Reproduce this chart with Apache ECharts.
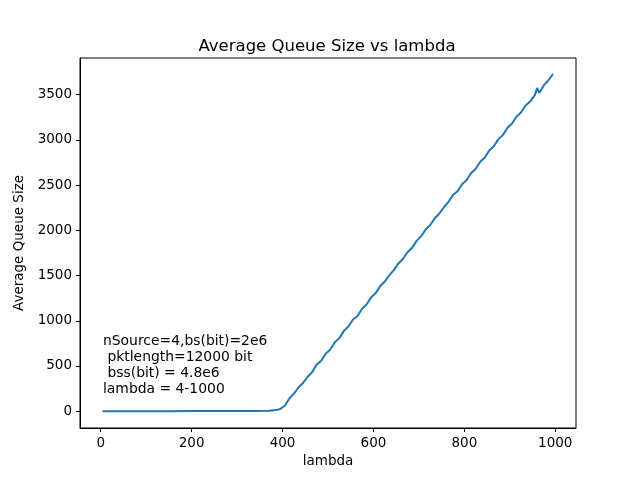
<!DOCTYPE html>
<html>
<head>
<meta charset="utf-8">
<script src="https://cdn.jsdelivr.net/npm/echarts@6/dist/echarts.min.js"></script>
<style>
  html, body { margin: 0; padding: 0; background: #fff; }
  #chart { width: 640px; height: 480px; }
</style>
</head>
<body>
<div id="chart"></div>
<script>
// lambda values and the measured average queue size
const lambdas = [
  4, 50, 100, 150, 200, 250, 300, 340, 370, 385, 395,
  405, 415, 425, 435, 445, 455, 465, 475, 485, 495,
  505, 515, 525, 535, 545, 555, 565, 575, 585, 595,
  605, 615, 625, 635, 645, 655, 665, 675, 685, 695,
  705, 715, 725, 735, 745, 755, 765, 775, 785, 795,
  805, 815, 825, 835, 845, 855, 865, 875, 885, 895,
  905, 915, 925, 935, 945, 955, 960, 965, 975, 985, 995
];
const queueSize = [
  0, 0, 0, 0, 1, 1, 2, 3, 6, 12, 25,
  60, 140, 195, 262, 312, 378, 432, 515, 558, 636,
  683, 762, 808, 888, 936, 1014, 1052, 1133, 1182, 1259,
  1306, 1384, 1434, 1504, 1560, 1634, 1686, 1758, 1808, 1884,
  1936, 2010, 2060, 2134, 2186, 2254, 2316, 2390, 2432, 2509,
  2556, 2634, 2682, 2758, 2806, 2884, 2932, 3009, 3056, 3134,
  3182, 3259, 3306, 3384, 3426, 3496, 3575, 3522, 3606, 3660, 3730
];
const xTicks = [0, 200, 400, 600, 800, 1000];
const yTicks = [0, 500, 1000, 1500, 2000, 2500, 3000, 3500];
const noteLines = [
  'nSource=4,bs(bit)=2e6',
  ' pktlength=12000 bit',
  ' bss(bit) = 4.8e6',
  'lambda = 4-1000'
];

const font = 'DejaVu Sans';
const chart = echarts.init(document.getElementById('chart'));

const axisCommon = {
  type: 'value',
  splitLine: { show: false },
  axisLine: { show: true, onZero: false, lineStyle: { color: '#000', width: 1 } },
  axisTick: { show: true, length: 4, lineStyle: { color: '#000', width: 1 } },
  axisLabel: {
    color: '#000', fontFamily: font, fontSize: 13.5, margin: 8,
    formatter: (v) => String(v)
  },
  nameTextStyle: { color: '#000', fontFamily: font, fontSize: 13.5 },
  nameLocation: 'middle'
};

chart.setOption({
  animation: false,
  title: {
    text: 'Average Queue Size vs lambda',
    left: 322,
    top: 33,
    textAlign: 'center',
    textStyle: { color: '#000', fontFamily: font, fontSize: 16.5, fontWeight: 'normal' }
  },
  grid: {
    left: 80, right: 64, top: 58, bottom: 52,
    show: true, borderColor: '#000', borderWidth: 1, backgroundColor: '#fff'
  },
  xAxis: Object.assign({}, axisCommon, {
    min: -45.6,
    max: 1045.6,
    name: 'lambda',
    nameGap: 26,
    axisTick: Object.assign({}, axisCommon.axisTick, { customValues: xTicks }),
    axisLabel: Object.assign({}, axisCommon.axisLabel, { customValues: xTicks })
  }),
  yAxis: Object.assign({}, axisCommon, {
    min: -186,
    max: 3906,
    name: 'Average Queue Size',
    nameGap: 43,
    axisTick: Object.assign({}, axisCommon.axisTick, { customValues: yTicks }),
    axisLabel: Object.assign({}, axisCommon.axisLabel, { customValues: yTicks })
  }),
  series: [{
    type: 'line',
    data: lambdas.map((x, i) => [x, queueSize[i]]),
    showSymbol: false,
    lineStyle: { color: '#1f77b4', width: 2 },
    itemStyle: { color: '#1f77b4' }
  }],
  graphic: [{
    type: 'text',
    left: 103,
    top: 333,
    style: {
      text: noteLines.join('\n'),
      fill: '#000',
      font: '13.9px "DejaVu Sans"',
      lineHeight: 16
    }
  }]
});
</script>
</body>
</html>
